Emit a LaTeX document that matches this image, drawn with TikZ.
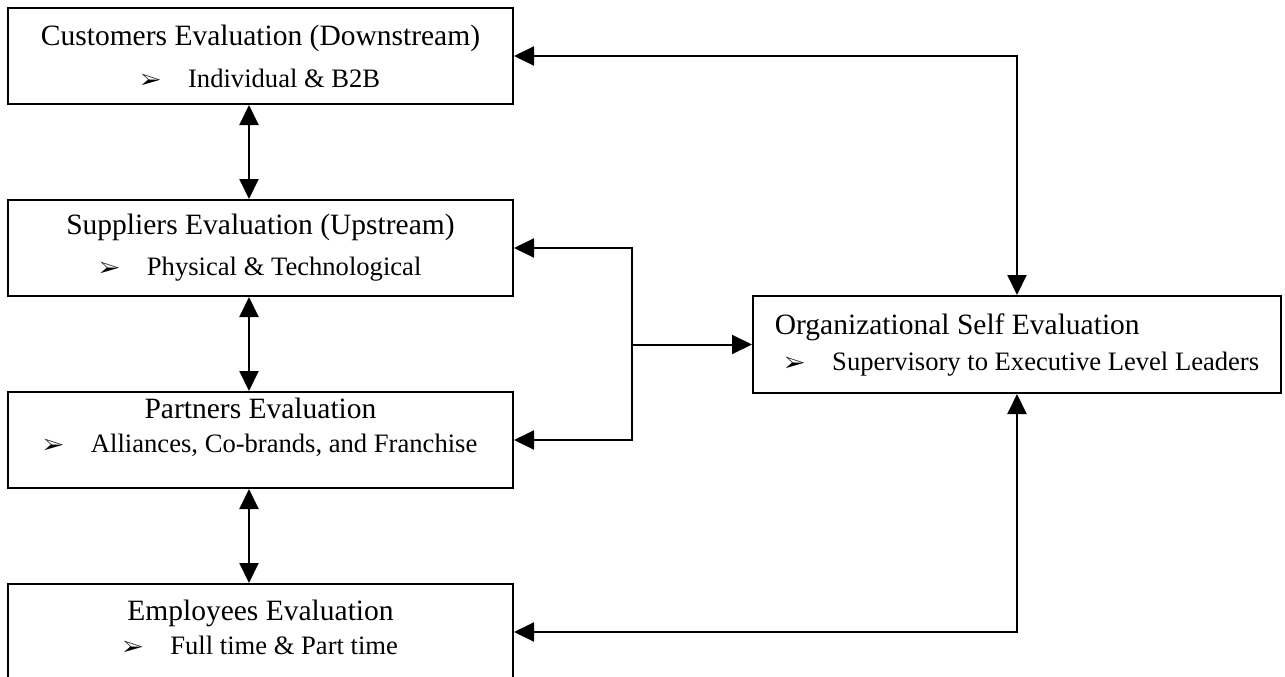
\documentclass[tikz,border=0pt]{standalone}
\usepackage{fontspec}
\usepackage{pifont}
\setmainfont{Liberation Serif}
\usetikzlibrary{arrows.meta}

\newcommand{\subline}[1]{{\fontsize{26.6}{31}\selectfont{\fontsize{22}{22}\selectfont\ding{226}}\hspace{27pt}#1}}

\begin{document}
\begin{tikzpicture}[x=1pt, y=1pt, node distance=192pt, line width=2pt, >={Triangle[length=20pt,width=19pt]},
  evalbox/.style={draw, minimum width=505pt, minimum height=96pt, align=center, inner sep=0pt, font=\fontsize{29.5}{34}\selectfont},
  selfbox/.style={draw, minimum width=528pt, minimum height=97pt, align=left, inner sep=0pt, font=\fontsize{29.5}{34}\selectfont}]
            \path[use as bounding box, clip] (0,0) rectangle (1285,-677);

            \node[evalbox] (cust) at (260.5,-56) {Customers Evaluation (Downstream)\\[8pt]\subline{Individual \& B2B}};
            \node[evalbox, below of=cust] (sup) {Suppliers Evaluation (Upstream)\\[7pt]\subline{Physical \& Technological}};
            \node[evalbox, below of=sup, text depth=29pt] (part) {Partners Evaluation\\\subline{Alliances, Co-brands, and Franchise}};
            \node[evalbox, below of=part, text depth=10pt] (emp) {Employees Evaluation\\\subline{Full time \& Part time}};
            \node[selfbox] (org) at (1017,-344.5) {Organizational Self Evaluation\\[2pt]\hspace{10pt}\subline{Supervisory to Executive Level Leaders}};
            \coordinate (jn) at ([xshift=-120pt]org.west);

            \draw [<->] ([xshift=-11.5pt]cust.south) -- ([xshift=-11.5pt]sup.north);
            \draw [<->] ([xshift=-11.5pt]sup.south) -- ([xshift=-11.5pt]part.north);
            \draw [<->] ([xshift=-11.5pt]part.south) -- ([xshift=-11.5pt]emp.north);
            \draw [<->] (cust.east) -| (org.north);
            \draw [<->] (sup.east) -| (jn) |- (part.east);
            \draw [->] (jn) -- (org.west);
            \draw [<->] (emp.east) -| (org.south);
        \end{tikzpicture}
\end{document}
